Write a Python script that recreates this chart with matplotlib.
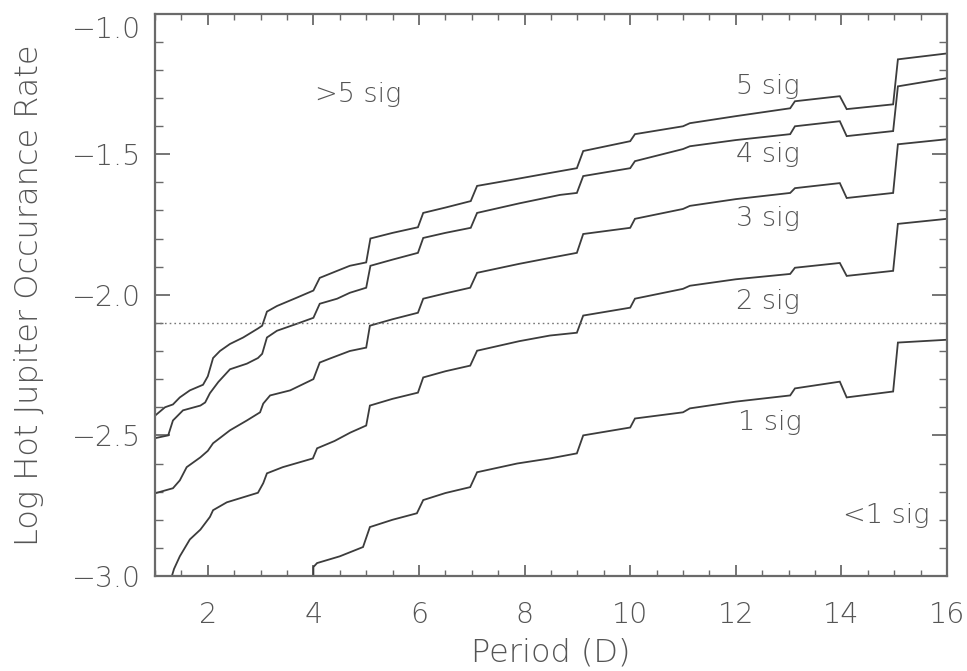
import matplotlib
matplotlib.use("Agg")
import matplotlib.pyplot as plt
import matplotlib.transforms as mtransforms
from matplotlib.ticker import MultipleLocator

# Detection-threshold curves: log occurrence rate vs orbital period
period_5sig = [1.00, 1.19, 1.34, 1.47, 1.66, 1.91, 2.00, 2.10, 2.23, 2.42, 2.67, 2.95, 3.03, 3.12, 3.31,
               3.69, 4.00, 4.12, 4.45, 4.69, 5.00, 5.08, 5.50, 5.98, 6.08, 6.50, 6.98, 7.10, 7.80, 8.48,
               8.99, 9.11, 10.00, 10.09, 11.00, 11.13, 12.00, 13.03, 13.12, 13.97, 14.10, 14.98, 15.07, 16.00]
rate_5sig = [-2.43, -2.40, -2.39, -2.365, -2.34, -2.32, -2.29, -2.225, -2.20, -2.175, -2.152, -2.12, -2.11,
             -2.06, -2.04, -2.01, -1.985, -1.94, -1.915, -1.897, -1.885, -1.80, -1.78, -1.76, -1.709, -1.69,
             -1.667, -1.613, -1.59, -1.567, -1.55, -1.489, -1.454, -1.429, -1.401, -1.39, -1.365, -1.337,
             -1.312, -1.294, -1.34, -1.323, -1.163, -1.142]

period_4sig = [1.00, 1.25, 1.34, 1.53, 1.86, 1.95, 2.04, 2.20, 2.42, 2.74, 2.95, 3.03, 3.12, 3.31, 3.69,
               4.00, 4.12, 4.45, 4.69, 5.00, 5.08, 5.50, 5.98, 6.08, 6.50, 6.98, 7.10, 7.90, 8.67, 8.99,
               9.11, 10.00, 10.09, 11.00, 11.13, 12.00, 13.03, 13.12, 13.97, 14.10, 14.98, 15.07, 16.00]
rate_4sig = [-2.51, -2.50, -2.447, -2.411, -2.394, -2.383, -2.35, -2.31, -2.265, -2.245, -2.225, -2.21,
             -2.152, -2.128, -2.103, -2.082, -2.032, -2.014, -1.993, -1.975, -1.897, -1.875, -1.851,
             -1.798, -1.78, -1.762, -1.709, -1.675, -1.645, -1.638, -1.578, -1.55, -1.525, -1.482,
             -1.472, -1.45, -1.429, -1.401, -1.383, -1.436, -1.418, -1.259, -1.23]

period_3sig = [1.00, 1.30, 1.34, 1.47, 1.60, 1.86, 2.00, 2.10, 2.42, 2.74, 2.99, 3.05, 3.18, 3.56, 4.00,
               4.12, 4.31, 4.69, 5.00, 5.07, 5.50, 5.98, 6.08, 6.50, 6.97, 7.10, 7.90, 8.48, 8.99, 9.11,
               10.00, 10.09, 11.00, 11.13, 12.00, 13.03, 13.12, 13.97, 14.10, 14.98, 15.07, 16.00]
rate_3sig = [-2.706, -2.69, -2.688, -2.66, -2.613, -2.578, -2.555, -2.528, -2.482, -2.447, -2.418, -2.387,
             -2.358, -2.34, -2.30, -2.241, -2.227, -2.20, -2.188, -2.11, -2.087, -2.064, -2.014, -1.995,
             -1.975, -1.922, -1.89, -1.869, -1.851, -1.784, -1.762, -1.73, -1.695, -1.684, -1.66, -1.638,
             -1.621, -1.603, -1.656, -1.638, -1.465, -1.447]

period_2sig = [1.32, 1.36, 1.47, 1.66, 1.86, 2.04, 2.10, 2.36, 2.95, 3.05, 3.12, 3.42, 3.99, 4.07, 4.40,
               4.70, 5.00, 5.07, 5.50, 5.98, 6.08, 6.50, 6.97, 7.10, 7.90, 8.48, 8.99, 9.11, 10.00, 10.09,
               11.00, 11.13, 12.00, 13.03, 13.12, 13.97, 14.10, 14.98, 15.07, 16.00]
rate_2sig = [-3.00, -2.975, -2.93, -2.87, -2.835, -2.79, -2.766, -2.738, -2.704, -2.67, -2.635, -2.613,
             -2.582, -2.546, -2.52, -2.49, -2.465, -2.394, -2.37, -2.348, -2.294, -2.272, -2.252, -2.199,
             -2.165, -2.145, -2.135, -2.074, -2.046, -2.014, -1.979, -1.968, -1.945, -1.926, -1.904,
             -1.887, -1.933, -1.915, -1.748, -1.73]

period_1sig = [4.00, 4.00, 4.07, 4.50, 4.94, 5.07, 5.50, 5.96, 6.08, 6.50, 6.97, 7.10, 7.86, 8.48, 8.99,
               9.11, 10.00, 10.09, 11.00, 11.13, 12.00, 13.03, 13.12, 13.97, 14.10, 14.98, 15.07, 16.00]
rate_1sig = [-3.00, -2.968, -2.954, -2.93, -2.897, -2.826, -2.80, -2.777, -2.730, -2.705, -2.684, -2.631,
             -2.60, -2.582, -2.564, -2.50, -2.472, -2.44, -2.418, -2.404, -2.38, -2.358, -2.333, -2.309,
             -2.365, -2.344, -2.17, -2.16]

threshold_rate = -2.1

region_labels = [">5 sig", "5 sig", "4 sig", "3 sig", "2 sig", "1 sig", "<1 sig"]
label_period = [4.03, 12.0, 12.0, 12.0, 12.0, 12.05, 14.03]
label_rate = [-1.287, -1.259, -1.50, -1.73, -2.025, -2.454, -2.784]

xlim = (1, 16)
ylim = (-3.0, -1.0)
xticks = [2, 4, 6, 8, 10, 12, 14, 16]
yticks = [-3.0, -2.5, -2.0, -1.5, -1.0]

FONT = ["DejaVu Sans"]
TEXT_C = "#555555"
LINE_C = "#3c3c3c"
AX_C = "#6a6a6a"
FS = 20.5
FS_LABEL = 23

plt.rcParams["font.family"] = FONT
plt.rcParams["font.weight"] = "light"
plt.rcParams["axes.labelweight"] = "light"
plt.rcParams["axes.unicode_minus"] = True

fig = plt.figure(figsize=(9.67, 6.71), dpi=100)
ax = fig.add_axes([155 / 967, 1 - 576 / 671, (947 - 155) / 967, (576 - 13.5) / 671])

curves = [(period_5sig, rate_5sig), (period_4sig, rate_4sig), (period_3sig, rate_3sig),
          (period_2sig, rate_2sig), (period_1sig, rate_1sig)]
for p, r in curves:
    ax.plot(p, r, color=LINE_C, lw=1.3, solid_joinstyle="miter")

ax.axhline(threshold_rate, color="#777777", lw=1.0, ls=(0, (1.2, 2.2)))

for t, xp, yp in zip(region_labels, label_period, label_rate):
    ax.text(xp, yp, t, ha="left", va="center", fontsize=FS - 1, color=TEXT_C,
            fontweight="light")

ax.set_xlim(*xlim)
ax.set_ylim(*ylim)
ax.set_xticks(xticks)
ax.set_yticks(yticks)
ax.xaxis.set_minor_locator(MultipleLocator(0.5))
ax.yaxis.set_minor_locator(MultipleLocator(0.1))
ax.set_xticklabels([str(v) for v in xticks])
ax.set_yticklabels(["\u2212%.1f" % abs(v) for v in yticks])

ax.tick_params(which="both", direction="in", top=True, right=True, colors=AX_C,
               labelcolor=TEXT_C, labelsize=FS)
ax.tick_params(axis="x", which="major", length=8, width=1.3, pad=18)
ax.tick_params(axis="x", which="minor", length=4, width=1.0)
ax.tick_params(axis="y", which="major", length=11, width=1.3, pad=10)
ax.tick_params(axis="y", which="minor", length=6, width=1.0)
for s in ax.spines.values():
    s.set_color(AX_C)
    s.set_linewidth(1.6)

# nudge the topmost y label down so it sits inside the frame height
top_lbl = ax.get_yticklabels()[-1]
top_lbl.set_transform(top_lbl.get_transform() +
                      mtransforms.ScaledTranslation(0, -10 / 72, fig.dpi_scale_trans))

ax.set_xlabel("Period (D)", fontsize=FS_LABEL, color=TEXT_C, labelpad=6, fontweight="light")
ax.set_ylabel("Log Hot Jupiter Occurance Rate", fontsize=FS_LABEL, color=TEXT_C, labelpad=20,
              fontweight="light")

fig.savefig("out.png", dpi=100, facecolor="white")
